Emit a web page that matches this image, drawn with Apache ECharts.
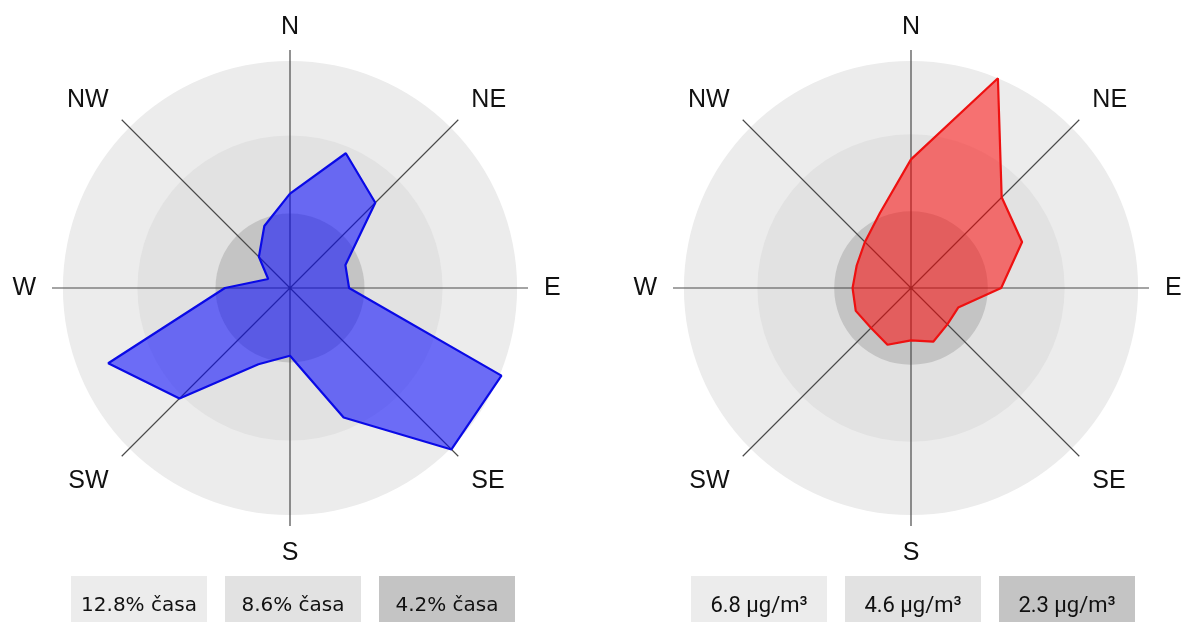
<!DOCTYPE html>
<html lang="sk">
<head>
  <meta charset="utf-8">
  <script src="https://cdn.jsdelivr.net/npm/echarts@6/dist/echarts.min.js"></script>
</head>
<body style="margin: 0; background: #fff">
  <div id="main" style="width: 1189px; height: 622px"></div>
  <script type="text/javascript">
    // 16 wind directions, clockwise from north
    var directions = ['N', 'NNE', 'NE', 'ENE', 'E', 'ESE', 'SE', 'SSE', 'S', 'SSW', 'SW', 'WSW', 'W', 'WNW', 'NW', 'NNW'];
    var axisLabels = ['N', 'NE', 'E', 'SE', 'S', 'SW', 'W', 'NW'];

    // share of time (%) with wind from each direction
    var timeShare = [5.32, 8.22, 6.8, 3.38, 3.33, 12.9, 12.87, 7.9, 3.82, 4.65, 8.81, 11.09, 3.67, 1.33, 2.48, 3.78];
    // mean concentration (µg/m³) for each direction
    var concentration = [3.85, 6.8, 3.84, 3.6, 2.7, 1.53, 1.54, 1.74, 1.57, 1.84, 1.69, 1.79, 1.75, 1.76, 1.95, 2.43];

    var timeRings = [12.8, 8.6, 4.2];
    var concRings = [6.8, 4.6, 2.3];
    var ringColors = ['#ececec', '#e2e2e2', '#c4c4c4'];

    var chart = echarts.init(document.getElementById('main'));

    function closedShape(values) {
      var pts = values.map(function (v, i) {
        return [v, i * 360 / directions.length];
      });
      pts.push([values[0], 360]);
      return pts;
    }

    var polar = [], angleAxis = [], radiusAxis = [], series = [], graphic = [];

    function addRose(center, values, rings, lineColor, fillColor, legendX, unit, legendFont) {
      var p = polar.length;
      // axis lines run a bit past the outer ring
      var rMax = rings[0] * 1.048;
      polar.push({ center: center, radius: 238 }, { center: center, radius: 238 });

      angleAxis.push({
        polarIndex: p, type: 'category', data: [''], startAngle: 90, show: false
      }, {
        polarIndex: p + 1, type: 'value', min: 0, max: 360, interval: 45,
        startAngle: 90, clockwise: true, z: 1,
        axisLine: { show: false },
        axisTick: { show: false },
        splitLine: { show: true, lineStyle: { color: '#4a4a4a', width: 1.2 } },
        axisLabel: {
          margin: 10, padding: [5, 6, 0, 6],
          color: '#111', fontSize: 25, fontFamily: 'Liberation Sans',
          formatter: function (v) { return axisLabels[Math.round(v / 45) % 8]; }
        }
      });
      radiusAxis.push(
        { polarIndex: p, type: 'value', min: 0, max: rMax, show: false },
        { polarIndex: p + 1, type: 'value', min: 0, max: rMax, show: false }
      );

      rings.forEach(function (v, i) {
        series.push({
          type: 'bar', coordinateSystem: 'polar', polarIndex: p,
          data: [v], barCategoryGap: '0%', barGap: '-100%',
          itemStyle: { color: ringColors[i] }, z: 0, silent: true
        });
      });

      series.push({
        type: 'line', coordinateSystem: 'polar', polarIndex: p + 1,
        data: closedShape(values), showSymbol: false, z: 3, silent: true,
        lineStyle: { color: lineColor, width: 2.2 },
        areaStyle: { color: fillColor, opacity: 1 }
      });

      rings.forEach(function (v, i) {
        graphic.push({
          type: 'rect',
          shape: { x: legendX + i * 154, y: 576, width: 136, height: 60 },
          style: { fill: ringColors[i] },
          textContent: { style: { text: v + unit, font: legendFont, fill: '#111' } },
          textConfig: { position: 'inside' }
        });
      });
    }

    addRose([290, 288], timeShare, timeRings, '#0a0ae6', 'rgba(0,0,255,0.54)', 71, '% časa', '20px "DejaVu Sans"');
    addRose([911, 288], concentration, concRings, '#ee1111', 'rgba(255,0,0,0.52)', 691, ' µg/m³', '22px Roboto');

    var option = {
      backgroundColor: '#fff',
      animation: false,
      polar: polar,
      angleAxis: angleAxis,
      radiusAxis: radiusAxis,
      series: series,
      graphic: graphic
    };
    chart.setOption(option);
  </script>
</body>
</html>
